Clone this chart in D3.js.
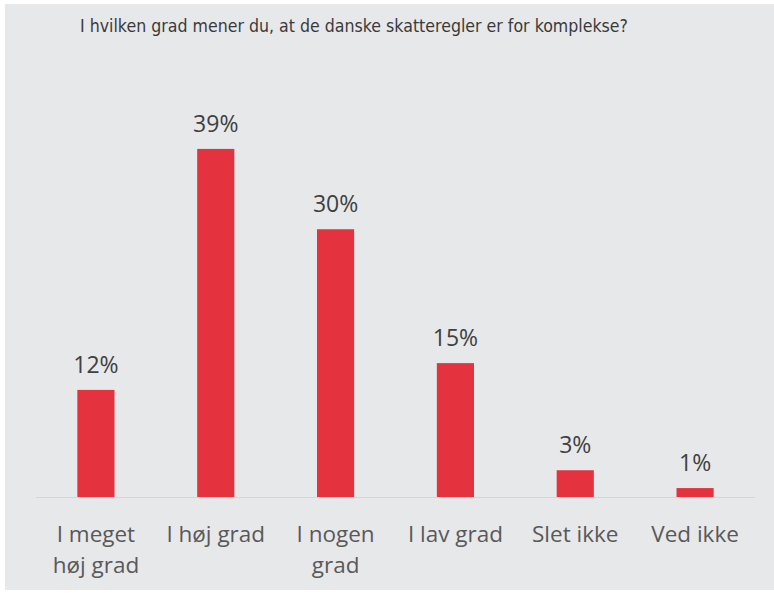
<!DOCTYPE html>
<html><head><meta charset="utf-8">
<script src="https://cdn.jsdelivr.net/npm/d3@7"></script>
<style>html,body{margin:0;padding:0;background:#fff;}svg{display:block;}</style>
</head><body>
<script>
const title = "I hvilken grad mener du, at de danske skatteregler er for komplekse?";
const categories = [["I meget","høj grad"],["I høj grad"],["I nogen","grad"],["I lav grad"],["Slet ikke"],["Ved ikke"]];
const values = [12, 39, 30, 15, 3, 1];
const valueLabels = ["12%","39%","30%","15%","3%","1%"];

const W = 774, H = 593;
const svg = d3.select("body").append("svg").attr("width", W).attr("height", H);
svg.append("rect").attr("x",5).attr("y",4).attr("width",W-5).attr("height",586).attr("fill","#e7e8ea");

svg.append("text").attr("x",80).attr("y",32).attr("fill","#3a3a3a")
  .attr("font-family","'Liberation Sans Narrow','DejaVu Sans Condensed',sans-serif")
  .attr("font-size",17).attr("textLength",548).attr("lengthAdjust","spacingAndGlyphs")
  .text(title);

const idx = values.map((d,i)=>i);
const x = d3.scaleBand().domain(idx).range([36,755]).paddingInner(0.69).paddingOuter(0.345);
const y = d3.scaleLinear().domain([0,40]).range([497,140]);

svg.append("line").attr("x1",36).attr("x2",755).attr("y1",497.5).attr("y2",497.5)
  .attr("stroke","#d6d6d6").attr("stroke-width",1);

svg.selectAll("rect.bar").data(values).enter().append("rect").attr("class","bar")
  .attr("x",(d,i)=>x(i)).attr("width",x.bandwidth())
  .attr("y",d=>y(d)).attr("height",d=>y(0)-y(d)).attr("fill","#e5323f");

svg.selectAll("text.val").data(values).enter().append("text").attr("class","val")
  .attr("x",(d,i)=>x(i)+x.bandwidth()/2).attr("y",d=>y(d)-17)
  .attr("text-anchor","middle").attr("fill","#404040")
  .attr("font-family","'Open Sans',sans-serif").attr("font-size",23)
  .text((d,i)=>valueLabels[i]);

const cat = svg.selectAll("text.cat").data(categories).enter().append("text").attr("class","cat")
  .attr("text-anchor","middle").attr("fill","#595959")
  .attr("font-family","'Open Sans',sans-serif").attr("font-size",22.5);
cat.each(function(lines,i){
  const t = d3.select(this);
  lines.forEach((l,j)=>{
    t.append("tspan").attr("x",x(i)+x.bandwidth()/2).attr("y",542+j*31).text(l);
  });
});
</script>
</body></html>
